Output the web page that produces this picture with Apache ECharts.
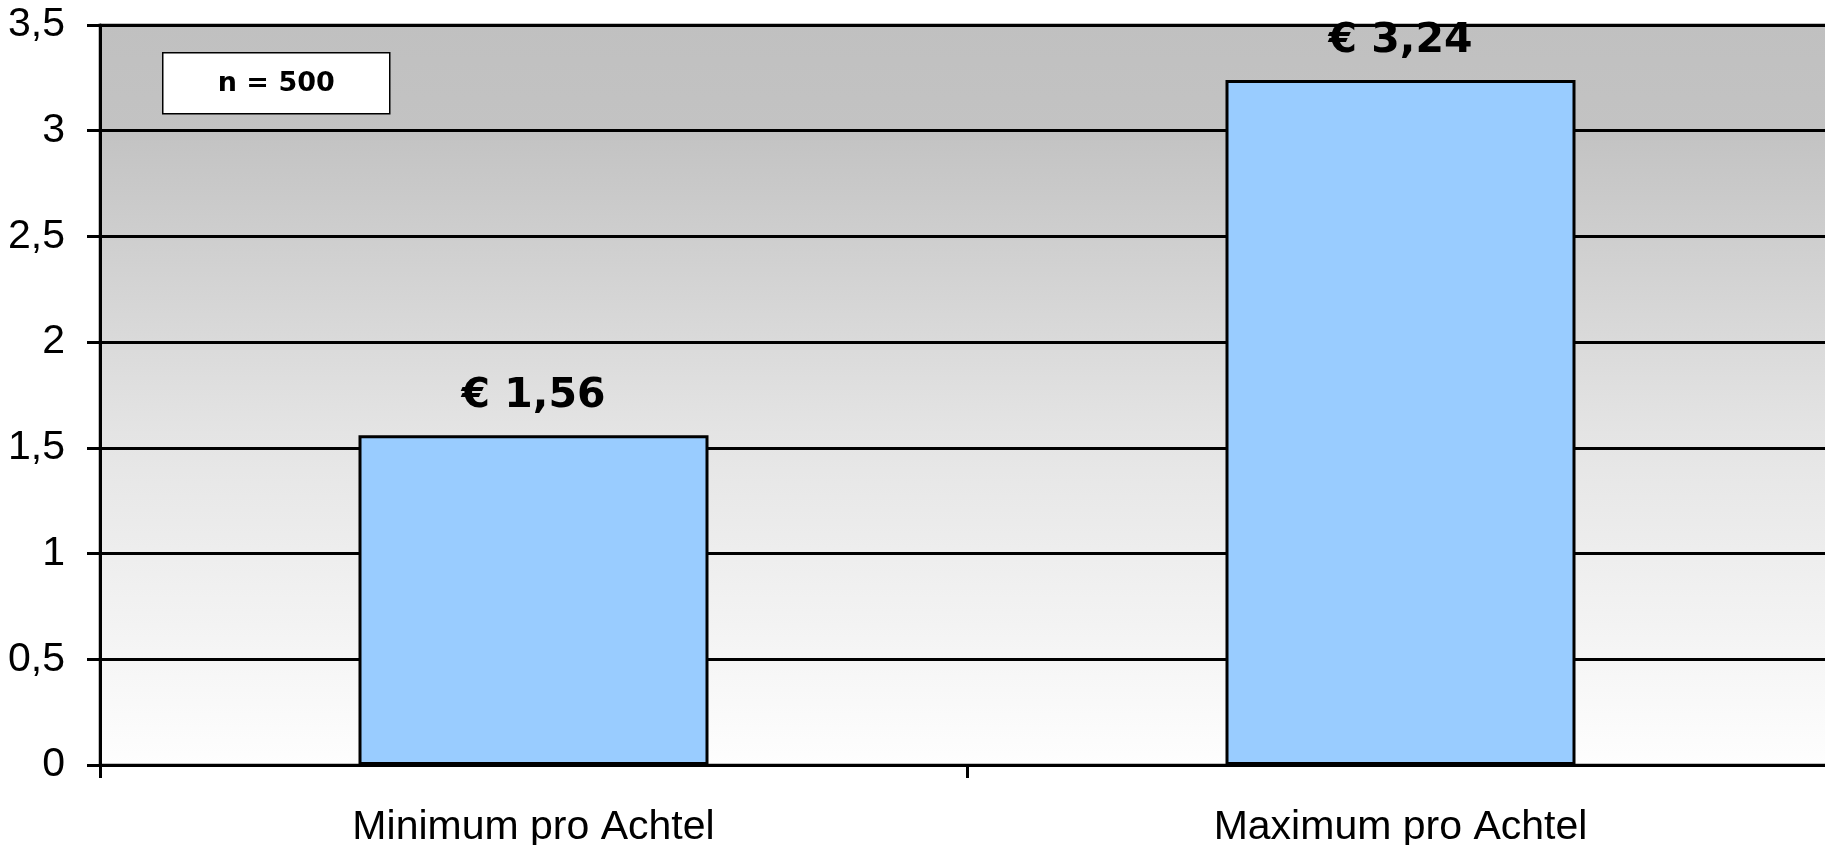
<!DOCTYPE html>
<html>
<head>
<meta charset="utf-8">
<title>Preis pro Achtel</title>
<script src="https://cdn.jsdelivr.net/npm/echarts@6/dist/echarts.min.js"></script>
<style>
  html, body { margin: 0; padding: 0; background: #ffffff; }
  #chart { width: 1825px; height: 845px; }
</style>
</head>
<body>
<div id="chart"></div>
<script>
// Kategorien und Werte (Euro pro Achtel)
const categories = ['Minimum pro Achtel', 'Maximum pro Achtel'];
const values = [1.56, 3.24];
const sampleNote = 'n = 500';
const yMin = 0;
const yMax = 3.5;
const yStep = 0.5;

const comma = v => String(v).replace('.', ',');

const chart = echarts.init(document.getElementById('chart'), null, { renderer: 'canvas' });

chart.setOption({
  animation: false,
  backgroundColor: '#ffffff',
  grid: {
    left: 100,
    width: 1734,
    top: 25,
    height: 740,
    containLabel: false,
    outerBoundsMode: 'none',
    show: true,
    borderColor: '#808080',
    borderWidth: 3,
    backgroundColor: {
      type: 'linear', x: 0, y: 0, x2: 0, y2: 1,
      colorStops: [
        { offset: 0, color: '#c0c0c0' },
        { offset: 0.15, color: '#c3c3c3' },
        { offset: 0.55, color: '#e4e4e4' },
        { offset: 1, color: '#fefefe' }
      ]
    }
  },
  xAxis: {
    type: 'category',
    data: categories,
    boundaryGap: true,
    axisLine: { show: true, lineStyle: { color: '#000000', width: 3 } },
    axisTick: { show: true, length: 13, lineStyle: { color: '#000000', width: 3 } },
    axisLabel: {
      margin: 42,
      color: '#000000',
      fontFamily: 'Liberation Sans, Arial, sans-serif',
      fontSize: 41
    },
    splitLine: { show: false }
  },
  yAxis: {
    type: 'value',
    min: yMin,
    max: yMax,
    interval: yStep,
    axisLine: { show: true, lineStyle: { color: '#000000', width: 3 } },
    axisTick: { show: true, length: 13, lineStyle: { color: '#000000', width: 3 } },
    axisLabel: {
      margin: 35,
      color: '#000000',
      fontFamily: 'Liberation Sans, Arial, sans-serif',
      fontSize: 41,
      formatter: v => comma(v)
    },
    splitLine: { show: true, lineStyle: { color: '#000000', width: 3 } }
  },
  series: [{
    type: 'bar',
    data: values,
    barWidth: 350,
    itemStyle: { color: '#99ccff', borderColor: '#000000', borderWidth: 3 },
    label: {
      show: true,
      position: 'top',
      distance: 18,
      color: '#000000',
      fontFamily: 'DejaVu Sans, Verdana, sans-serif',
      fontWeight: 'bold',
      fontSize: 41,
      formatter: p => '€ ' + p.value.toFixed(2).replace('.', ',')
    }
  }],
  graphic: [{
    type: 'group',
    left: 162,
    top: 52,
    children: [
      {
        type: 'rect',
        shape: { x: 0, y: 0, width: 227, height: 61 },
        style: { fill: '#ffffff', stroke: '#000000', lineWidth: 1.5 }
      },
      {
        type: 'text',
        x: 113.5,
        y: 31,
        style: {
          text: sampleNote,
          fill: '#000000',
          font: 'bold 27px "DejaVu Sans", Verdana, sans-serif',
          textAlign: 'center',
          textVerticalAlign: 'middle'
        }
      }
    ]
  }]
});
</script>
</body>
</html>
